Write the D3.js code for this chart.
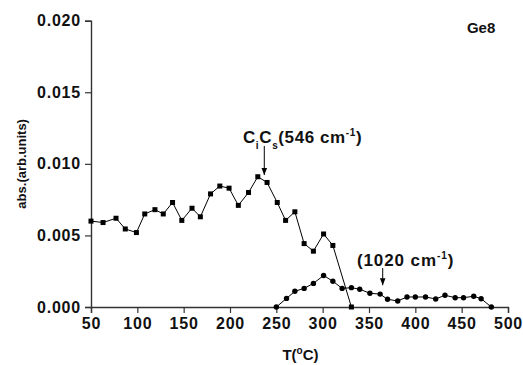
<!DOCTYPE html>
<html>
<head>
<meta charset="utf-8">
<script src="https://cdn.jsdelivr.net/npm/d3@7"></script>
<style>
  body { margin: 0; background: #fff; }
  text { font-family: "Liberation Sans", Arial, sans-serif; font-weight: bold; fill: #111; }
</style>
</head>
<body>
<div id="chart"></div>
<script>
// CiCs (546 cm-1) band, squares
const sqT = [50, 63, 77, 87, 99, 108, 119, 128, 138, 148, 159, 168, 179, 189, 199, 209, 220, 230, 240, 251, 260, 270, 280, 290, 301, 311, 331];
const sqV = [0.0060, 0.0059, 0.0062, 0.00545, 0.0052, 0.0065, 0.0068, 0.0065, 0.0073, 0.00605, 0.0069, 0.0063, 0.0079, 0.00845, 0.0083, 0.0071, 0.0080, 0.0091, 0.0087, 0.0073, 0.00605, 0.00665, 0.00443, 0.0039, 0.0051, 0.0043, 0.0];
// 1020 cm-1 band, circles
const circT = [250, 261, 270, 280, 290, 301, 311, 321, 331, 340, 351, 362, 370, 381, 391, 400, 411, 422, 432, 443, 452, 463, 471, 482];
const circV = [0, 0.0006, 0.0011, 0.0013, 0.00165, 0.0022, 0.0018, 0.0013, 0.00135, 0.00124, 0.00096, 0.0009, 0.00054, 0.00042, 0.0007, 0.0007, 0.0007, 0.00056, 0.00082, 0.00065, 0.00065, 0.00075, 0.00058, 0];

const xTicks = [50, 100, 150, 200, 250, 300, 350, 400, 450, 500];
const yTicks = [0, 0.005, 0.010, 0.015, 0.020];

const W = 523, H = 365;
const margin = {left: 91, right: 15, top: 20.7, bottom: 58};

const svg = d3.select("#chart").append("svg")
  .attr("width", W)
  .attr("height", H);

const x = d3.scaleLinear().domain([50, 500]).range([margin.left, W - margin.right]);
const y = d3.scaleLinear().domain([0, 0.02]).range([H - margin.bottom, margin.top]);

// axes: major + minor ticks
const xMinor = d3.range(75, 500, 50);
const yMinor = d3.range(0.0025, 0.02, 0.005);

const gx = svg.append("g").attr("transform", `translate(0,${y(0)})`);
gx.call(d3.axisBottom(x).tickValues(xMinor).tickSize(3).tickFormat(""));
gx.call(d3.axisBottom(x).tickValues(xTicks).tickSize(6).tickPadding(5).tickFormat(d3.format("d")));

const gy = svg.append("g").attr("transform", `translate(${x(50)},0)`);
gy.call(d3.axisLeft(y).tickValues(yMinor).tickSize(3).tickFormat(""));
gy.call(d3.axisLeft(y).tickValues(yTicks).tickSize(6).tickPadding(4).tickFormat(d3.format(".3f")));

svg.selectAll(".domain").attr("stroke", "#333").attr("stroke-width", 1.4);
svg.selectAll(".tick line").attr("stroke", "#333").attr("stroke-width", 1.2);
svg.selectAll(".tick text")
  .style("font-size", "16px")
  .style("letter-spacing", "0.8px")
  .attr("fill", "#111");

// lines + markers
const line = d3.line().x(d => x(d[0])).y(d => y(d[1]));
const sq = sqT.map((t, i) => [t, sqV[i]]);
const ci = circT.map((t, i) => [t, circV[i]]);

svg.append("path").datum(sq).attr("d", line)
  .attr("fill", "none").attr("stroke", "#000").attr("stroke-width", 1);
svg.append("path").datum(ci).attr("d", line)
  .attr("fill", "none").attr("stroke", "#000").attr("stroke-width", 1);

svg.selectAll(".sq").data(sq).enter().append("rect")
  .attr("x", d => x(d[0]) - 2.5)
  .attr("y", d => y(d[1]) - 2.5)
  .attr("width", 5).attr("height", 5)
  .attr("fill", "#000");
svg.selectAll(".ci").data(ci).enter().append("circle")
  .attr("cx", d => x(d[0]))
  .attr("cy", d => y(d[1]))
  .attr("r", 2.7)
  .attr("fill", "#000");

// axis titles
svg.append("text")
  .attr("x", (x(50) + x(500)) / 2 + 1)
  .attr("y", 360)
  .attr("text-anchor", "middle")
  .style("font-size", "15px")
  .html('T(<tspan dy="-6" style="font-size:10px">o</tspan><tspan dy="6">C)</tspan>');

svg.append("text")
  .attr("transform", `translate(26,${(y(0) + y(0.02)) / 2})rotate(-90)`)
  .attr("text-anchor", "middle")
  .style("font-size", "13px")
  .text("abs.(arb.units)");

// arrow marker
svg.append("defs").append("marker")
  .attr("id", "arr")
  .attr("viewBox", "0 0 10 10")
  .attr("refX", 10).attr("refY", 5)
  .attr("markerWidth", 7).attr("markerHeight", 7)
  .attr("markerUnits", "userSpaceOnUse")
  .attr("orient", "auto")
  .append("path").attr("d", "M0,1 L10,5 L0,9 Z").attr("fill", "#000");

// annotations
svg.append("text")
  .attr("x", x(455.7)).attr("y", y(0.01914))
  .style("font-size", "15px")
  .text("Ge8");

svg.append("text")
  .attr("x", x(214)).attr("y", y(0.01146))
  .style("font-size", "17px")
  .style("letter-spacing", "0.6px")
  .html('C<tspan dy="6" style="font-size:10px">i</tspan><tspan dy="-6">C</tspan><tspan dy="6" style="font-size:10px">s</tspan><tspan dy="-6">(546 cm</tspan><tspan dy="-7" style="font-size:10px">-1</tspan><tspan dy="7">)</tspan>');
svg.append("line")
  .attr("x1", x(237)).attr("x2", x(237))
  .attr("y1", y(0.01125)).attr("y2", y(0.00922))
  .attr("stroke", "#000").attr("stroke-width", 1)
  .attr("marker-end", "url(#arr)");

svg.append("text")
  .attr("x", x(337)).attr("y", y(0.00286))
  .style("font-size", "17px")
  .style("letter-spacing", "0.9px")
  .html('(1020 cm<tspan dy="-7" style="font-size:10px">-1</tspan><tspan dy="7">)</tspan>');
svg.append("line")
  .attr("x1", x(364.8)).attr("x2", x(364.8))
  .attr("y1", y(0.00272)).attr("y2", y(0.00152))
  .attr("stroke", "#000").attr("stroke-width", 1)
  .attr("marker-end", "url(#arr)");
</script>
</body>
</html>
